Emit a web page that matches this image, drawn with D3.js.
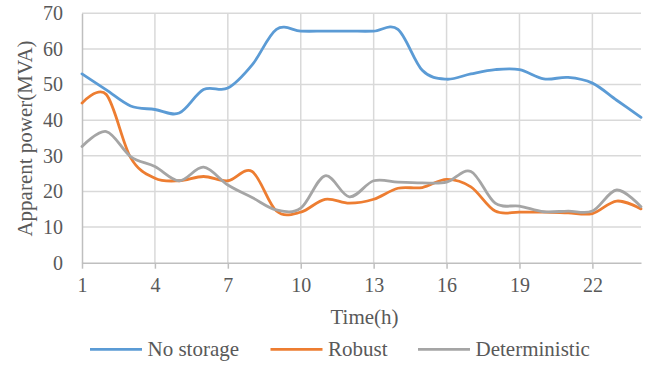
<!DOCTYPE html>
<html>
<head>
<meta charset="utf-8">
<script src="https://cdn.jsdelivr.net/npm/d3@7"></script>
<style>
  html, body { margin: 0; padding: 0; background: #fff; }
  svg { display: block; font-family: "Liberation Serif", "Times New Roman", serif; }
</style>
</head>
<body>
<svg id="chart" width="653" height="367"></svg>
<script>
const hours = [1,2,3,4,5,6,7,8,9,10,11,12,13,14,15,16,17,18,19,20,21,22,23,24];
const xTickValues = [1,4,7,10,13,16,19,22];
const yTickValues = [0,10,20,30,40,50,60,70];
const noStorage = [53,48.5,44,43,42,48.6,49,55.5,65.5,65,65,65,65,65.5,54,51.5,53,54.2,54.2,51.6,52,50.4,45.6,40.8];
const robust = [44.8,47.2,29.5,23.7,23,24.2,23,25.6,14.5,14.2,17.8,16.7,17.8,20.9,21.1,23.4,21.3,14.5,14.2,14.2,14,13.8,17.3,15.1];
const deterministic = [32.6,36.8,29.8,27,23,26.8,21.8,18.3,14.8,15.3,24.4,18.5,23,22.6,22.4,22.6,25.6,16.7,15.9,14.3,14.5,14.5,20.4,15.7];
const seriesNames = ["No storage","Robust","Deterministic"];
const seriesColors = ["#5B9BD5","#ED7D31","#A5A5A5"];

(function () {
const series = [noStorage, robust, deterministic];
const svg = d3.select("#chart");
const pLeft = 82, pRight = 641, pTop = 13.3, pBottom = 262.7;
const textColor = "#595959";

const x = d3.scaleLinear().domain([1,24]).range([pLeft, pRight]);
const y = d3.scaleLinear().domain([0,70]).range([pBottom, pTop]);

// horizontal gridlines
svg.append("g").selectAll("line").data(yTickValues.filter(v => v > 0)).join("line")
  .attr("x1", pLeft).attr("x2", pRight)
  .attr("y1", d => y(d)).attr("y2", d => y(d))
  .attr("stroke", "#d9d9d9").attr("stroke-width", 1.5);
// vertical gridlines
svg.append("g").selectAll("line").data(xTickValues.filter(v => v > 1)).join("line")
  .attr("x1", d => x(d)).attr("x2", d => x(d))
  .attr("y1", pTop).attr("y2", pBottom)
  .attr("stroke", "#d9d9d9").attr("stroke-width", 1.5);

// axes
const xAxis = d3.axisBottom(x).tickValues(xTickValues).tickSize(6).tickSizeOuter(0).tickPadding(9);
const gx = svg.append("g").attr("transform", `translate(0,${pBottom})`).call(xAxis);
gx.select(".domain").attr("stroke", "#bfbfbf").attr("stroke-width", 1.5);
gx.selectAll(".tick line").attr("stroke", "#bfbfbf").attr("stroke-width", 1.5);
gx.selectAll(".tick text").attr("fill", textColor).attr("font-size", 20)
  .attr("font-family", "Liberation Serif, serif");

const yAxis = d3.axisLeft(y).tickValues(yTickValues).tickSize(0).tickPadding(19);
const gy = svg.append("g").attr("transform", `translate(${pLeft},0)`).call(yAxis);
gy.select(".domain").attr("stroke", "#bfbfbf").attr("stroke-width", 1.5);
gy.selectAll(".tick text").attr("fill", textColor).attr("font-size", 20)
  .attr("font-family", "Liberation Serif, serif");

// lines
const line = d3.line().x((d,i) => x(hours[i])).y(d => y(d)).curve(d3.curveCardinal.tension(0));
svg.append("g").selectAll("path").data(series).join("path")
  .attr("d", d => line(d))
  .attr("fill", "none")
  .attr("stroke", (d,i) => seriesColors[i])
  .attr("stroke-width", 2.8)
  .attr("stroke-linejoin", "round").attr("stroke-linecap", "round");

// axis titles
svg.append("text").attr("x", (pLeft + pRight) / 2 + 3).attr("y", 324)
  .attr("text-anchor", "middle").attr("fill", textColor).attr("font-size", 21)
  .text("Time(h)");
svg.append("text").attr("transform", `translate(32,138.5) rotate(-90)`)
  .attr("text-anchor", "middle").attr("fill", textColor).attr("font-size", 21)
  .text("Apparent power(MVA)");

// legend
const legendX = [90, 270.5, 418];
const legend = svg.append("g");
seriesNames.forEach((name, i) => {
  const g = legend.append("g").attr("transform", `translate(${legendX[i]},349.3)`);
  g.append("line").attr("x1", 0).attr("x2", 52).attr("y1", 0).attr("y2", 0)
    .attr("stroke", seriesColors[i]).attr("stroke-width", 2.8);
  g.append("text").attr("x", 57.5).attr("y", 7).attr("fill", textColor)
    .attr("font-size", 21).text(name);
});
})();
</script>
</body>
</html>
